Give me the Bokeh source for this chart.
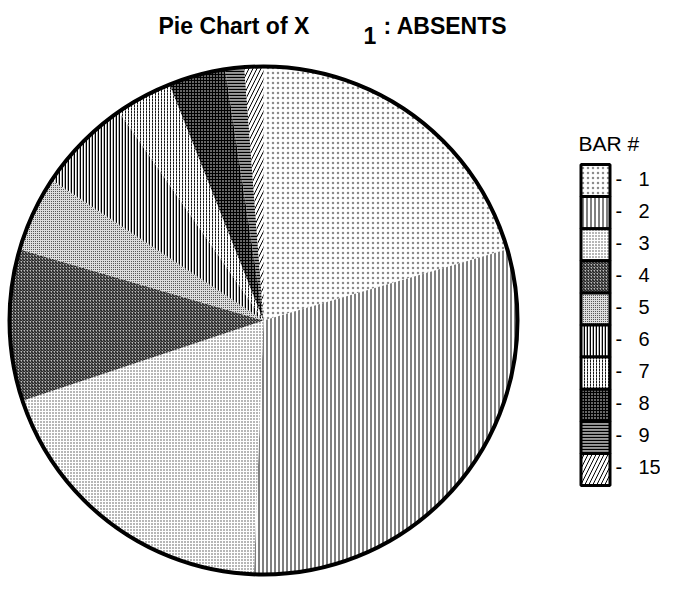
import numpy as np
from bokeh.plotting import figure
from bokeh.models import Range1d, ColumnDataSource
from bokeh.core.properties import value
from bokeh.embed import file_html
from bokeh.resources import INLINE

# ---- data ----
bars = ["1", "2", "3", "4", "5", "6", "7", "8", "9", "15"]
counts = [17, 25, 16, 8, 4, 5, 3, 3, 1, 1]
title_main = "Pie Chart of X"
title_sub = "1"
title_tail = ": ABSENTS"
legend_title = "BAR #"

# ---- styles (one per bar) ----
fills = ["white", "white", "white", "#bbbbbb", "#dddddd", "white", "white", "#666666", "#9a9a9a", "white"]
patterns = ["dot", "vertical_line", "dot", "right_diagonal_line", "dot",
            "vertical_line", "vertical_dash", "cross", "horizontal_line", "right_diagonal_line"]
scales = [5, 4, 3, 3, 2, 3, 3, 3, 3, 8]
weights = [0.6, 1, 0.8, 1, 0.8, 1.6, 1, 1, 1.2, 1]
alphas = [0.45, 1, 0.7, 1, 0.8, 1, 0.9, 1, 1, 1]

W, H = 660, 580
FONT = "Liberation Sans"


def px(x):
    return x - 8


def py(y):
    return H - (y - 8)


p = figure(width=W, height=H, x_range=Range1d(0, W), y_range=Range1d(0, H),
           x_axis_type=None, y_axis_type=None, output_backend="svg",
           toolbar_location=None, min_border=0)
p.grid.visible = False
p.outline_line_color = None

cx, cy, R = px(271), py(328), 254
total = float(sum(counts))
cum = np.concatenate([[0], np.cumsum(counts)]) / total
src = ColumnDataSource(dict(
    start=np.pi / 2 - 2 * np.pi * cum[:-1],
    end=np.pi / 2 - 2 * np.pi * cum[1:],
    fill=fills, pat=patterns, sc=scales, wt=weights, ha=alphas,
))
p.wedge(x=cx, y=cy, radius=R, start_angle="start", end_angle="end",
        direction="clock", fill_color="fill", hatch_pattern="pat",
        hatch_scale="sc", hatch_weight="wt", hatch_alpha="ha", hatch_color="black",
        line_color=None, source=src)
p.circle(x=[cx], y=[cy], radius=R, fill_color=None, line_color="black", line_width=4)

# ---- legend ----
n = len(bars)
box_h = 32.1
top = 172
lx = [px(603)] * n
ly = [py(top + box_h * (i + 0.5)) for i in range(n)]
lsrc = ColumnDataSource(dict(x=lx, y=ly, fill=fills, pat=patterns, sc=scales, wt=weights, ha=alphas,
                             dx=[px(623)] * n, nx=[px(646)] * n,
                             ty=[v + 2 for v in ly], lab=bars, dash=["-"] * n))
p.rect(x="x", y="y", width=29, height=box_h, fill_color="fill", hatch_pattern="pat",
       hatch_scale="sc", hatch_weight="wt", hatch_alpha="ha", hatch_color="black",
       line_color="black", line_width=3, source=lsrc)
p.text(x="dx", y="ty", text="dash", text_font=value(FONT), text_font_size="20px",
       text_baseline="middle", text_color="black", source=lsrc)
p.text(x="nx", y="ty", text="lab", text_font=value(FONT), text_font_size="20px",
       text_baseline="middle", text_color="black", source=lsrc)
p.text(x=[px(586)], y=[py(151)], text=[legend_title], text_font=value(FONT),
       text_font_size="21px", text_baseline="middle", text_color="black")

# ---- title ----
p.text(x=[px(166)], y=[py(33)], text=[title_main], text_font=value(FONT),
       text_font_style="bold", text_font_size="23px", text_baseline="alphabetic")
p.text(x=[px(371)], y=[py(43)], text=[title_sub], text_font=value(FONT),
       text_font_style="bold", text_font_size="23px", text_baseline="alphabetic")
p.text(x=[px(391)], y=[py(33)], text=[title_tail], text_font=value(FONT),
       text_font_style="bold", text_font_size="23px", text_baseline="alphabetic")

open("out.html", "w").write(file_html(p, INLINE))
